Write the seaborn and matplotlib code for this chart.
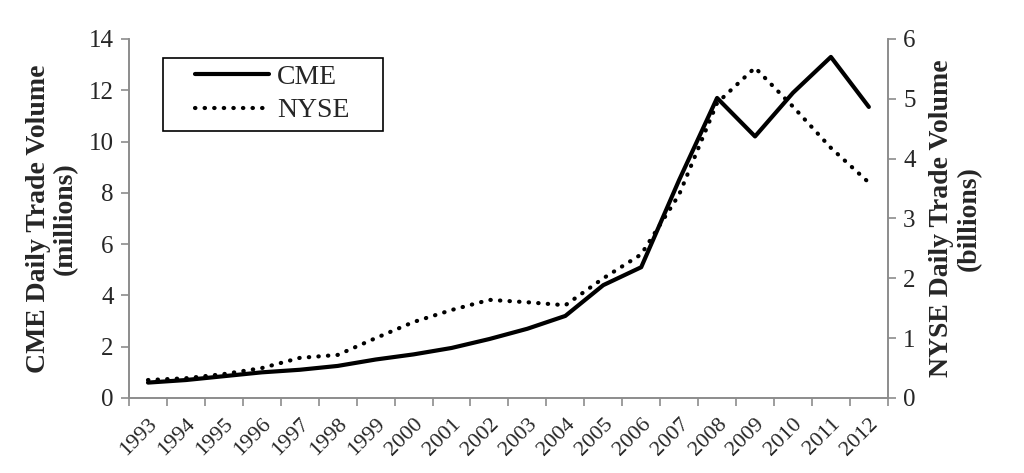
import numpy as np
import pandas as pd
import matplotlib
matplotlib.use("Agg")
import matplotlib.pyplot as plt
from matplotlib.patches import Rectangle
import seaborn as sns

# values
years = [str(y) for y in range(1993, 2013)]
cme_millions = [0.6, 0.7, 0.85, 1.0, 1.1, 1.25, 1.5, 1.7, 1.95, 2.3,
                2.7, 3.2, 4.4, 5.1, 8.5, 11.7, 10.2, 11.9, 13.3, 11.35]
nyse_billions = [0.3, 0.33, 0.4, 0.5, 0.67, 0.72, 1.0, 1.27, 1.47, 1.64,
                 1.6, 1.55, 2.0, 2.4, 3.4, 4.93, 5.52, 4.87, 4.18, 3.6]

df = pd.DataFrame({"year": years, "pos": np.arange(len(years)),
                   "cme": cme_millions, "nyse": nyse_billions})

sns.set_style("white")
plt.rcParams["font.family"] = ["Liberation Serif", "DejaVu Serif"]

fig = plt.figure(figsize=(10.24, 4.73), dpi=100)
ax = fig.add_axes([0.126, 0.1586, 0.741, 0.759])
ax2 = ax.twinx()

sns.lineplot(data=df, x="pos", y="cme", ax=ax, color="black", lw=3,
             solid_capstyle="round", solid_joinstyle="round", label="CME")
sns.lineplot(data=df, x="pos", y="nyse", ax=ax2, color="black", lw=3,
             linestyle=(0, (0.1, 2.2)), dash_capstyle="round", label="NYSE")

grey = "#8c8c8c"
ax.set_xlim(-0.5, len(years) - 0.5)
ax.set_ylim(0, 14)
ax2.set_ylim(0, 6)
ax.set_yticks(range(0, 15, 2))
ax2.set_yticks(range(0, 7))

ax.set_xticks(np.arange(-0.5, len(years)))
ax.set_xticklabels([])
ax.set_xticks(df["pos"], minor=True)
ax.set_xticklabels(years, minor=True, rotation=45, ha="right",
                   rotation_mode="anchor", fontsize=16)
ax.tick_params(axis="x", which="major", direction="out", length=6,
               color=grey, width=1.2, bottom=True)
ax.tick_params(axis="x", which="minor", length=0, pad=12)
ax.tick_params(axis="y", direction="out", length=6, color=grey, width=1.2,
               labelsize=18, left=True, pad=5)
ax2.tick_params(axis="y", direction="out", length=6, color=grey, width=1.2,
                labelsize=18, right=True, pad=5)

for a in (ax, ax2):
    a.spines["top"].set_visible(False)
    for s in ("left", "right", "bottom"):
        a.spines[s].set_color(grey)
        a.spines[s].set_linewidth(1.2)

ax.set_xlabel("")
ax.set_ylabel("CME Daily Trade Volume\n(millions)", fontsize=20,
              fontweight="bold", labelpad=8, linespacing=1.1)
ax2.set_ylabel("NYSE Daily Trade Volume\n(billions)", fontsize=20,
               fontweight="bold", labelpad=10, linespacing=1.1)

# legend: no own frame, a wider box drawn behind it like the original
h1, l1 = ax.get_legend_handles_labels()
h2, l2 = ax2.get_legend_handles_labels()
ax2.get_legend().remove()
if ax.get_legend():
    ax.get_legend().remove()
leg = ax2.legend(h1 + h2, l1 + l2, loc="upper left",
                 bbox_to_anchor=(0.087, 0.93), fontsize=20, frameon=False,
                 handlelength=2.65, borderpad=0, borderaxespad=0,
                 labelspacing=0.3, handletextpad=0.3)
ax2.add_patch(Rectangle((0.0448, 0.7437), 0.29, 0.2033, transform=ax2.transAxes,
                        fill=False, edgecolor="black", lw=1.2, zorder=5))

fig.savefig("out.png", dpi=100)
